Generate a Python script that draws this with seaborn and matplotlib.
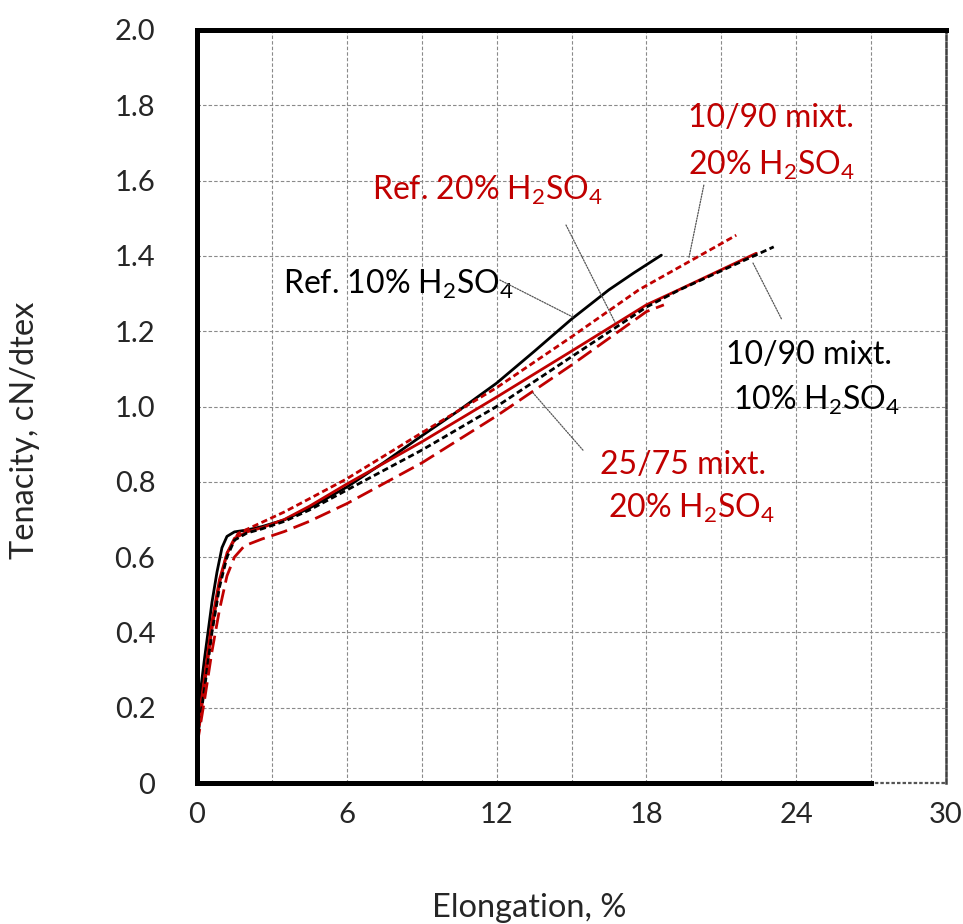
import matplotlib
matplotlib.use("Agg")
import matplotlib.pyplot as plt
import seaborn as sns
import pandas as pd

# ---------------- data ----------------
ref10_x = [0, 0.3, 0.6, 0.8, 1.0, 1.2, 1.5, 2.0, 2.6, 3.5, 4.5, 6, 7.5, 9, 10.5, 12, 13.5, 15, 16.5, 17.5, 18.6]
ref10_y = [0.17, 0.33, 0.48, 0.56, 0.625, 0.655, 0.667, 0.672, 0.681, 0.699, 0.73, 0.786, 0.852, 0.922, 0.99, 1.062, 1.146, 1.232, 1.31, 1.355, 1.402]

mix1090_20_x = [0, 0.3, 0.6, 0.9, 1.2, 1.65, 2.2, 3.5, 4.5, 6, 9, 12, 15, 17.7, 21.6]
mix1090_20_y = [0.10, 0.26, 0.41, 0.53, 0.61, 0.663, 0.680, 0.72, 0.755, 0.808, 0.93, 1.05, 1.185, 1.31, 1.455]

ref20_x = [0, 0.3, 0.6, 0.9, 1.2, 1.5, 2.0, 2.6, 3.5, 4.5, 6, 9, 12, 15, 18, 19.3, 22.4]
ref20_y = [0.13, 0.28, 0.43, 0.54, 0.61, 0.65, 0.667, 0.678, 0.70, 0.735, 0.794, 0.906, 1.025, 1.147, 1.270, 1.31, 1.407]

mix1090_10_x = [0, 0.3, 0.6, 0.9, 1.2, 1.5, 2.0, 2.6, 3.5, 4.5, 6, 9, 12, 15, 18, 19.3, 23.1]
mix1090_10_y = [0.11, 0.25, 0.40, 0.52, 0.60, 0.645, 0.664, 0.675, 0.695, 0.725, 0.778, 0.884, 1.0, 1.132, 1.264, 1.309, 1.424]

mix2575_20_x = [0, 0.3, 0.6, 0.9, 1.2, 1.5, 1.9, 2.6, 3.5, 4.5, 6, 9, 12, 15, 18, 18.7]
mix2575_20_y = [0.10, 0.22, 0.35, 0.46, 0.55, 0.60, 0.63, 0.648, 0.668, 0.695, 0.742, 0.85, 0.975, 1.11, 1.252, 1.27]

x_ticks = [0, 6, 12, 18, 24, 30]
y_ticks = [0, 0.2, 0.4, 0.6, 0.8, 1.0, 1.2, 1.4, 1.6, 1.8, 2.0]
y_tick_labels = ["0", "0.2", "0.4", "0.6", "0.8", "1.0", "1.2", "1.4", "1.6", "1.8", "2.0"]

RED = "#C00000"
BLACK = "#000000"

# ---------------- style ----------------
sns.set_style("white")
plt.rcParams["font.family"] = ["Lato", "DejaVu Sans"]
plt.rcParams["mathtext.fontset"] = "custom"
plt.rcParams["mathtext.rm"] = "Lato"
plt.rcParams["mathtext.it"] = "Lato:italic"
plt.rcParams["mathtext.bf"] = "Lato:bold"
plt.rcParams["lines.scale_dashes"] = False

fig = plt.figure(figsize=(9.63, 9.24), dpi=100)
ax = fig.add_axes([197 / 963, 1 - 783 / 924, (946 - 197) / 963, (783 - 30) / 924])

series = [
    (ref10_x, ref10_y, BLACK, "solid"),
    (mix1090_20_x, mix1090_20_y, RED, (0, (4.5, 2.5))),
    (ref20_x, ref20_y, RED, "solid"),
    (mix1090_10_x, mix1090_10_y, BLACK, (0, (4.5, 2.5))),
    (mix2575_20_x, mix2575_20_y, RED, (0, (12, 5))),
]
for xs, ys, col, ls in series:
    df = pd.DataFrame({"x": xs, "y": ys})
    sns.lineplot(data=df, x="x", y="y", ax=ax, color=col, linewidth=2.0,
                 linestyle=ls, sort=False, estimator=None, zorder=3)

ax.set_xlim(0, 30)
ax.set_ylim(0, 2.0)
ax.set_xticks(x_ticks)
ax.set_yticks(y_ticks)
ax.set_yticklabels(y_tick_labels)
ax.set_xticks(range(0, 31, 3), minor=True)
grid_kw = dict(color="#8a8a8a", linestyle=(0, (2.5, 1.5)), linewidth=0.8)
ax.grid(True, which="both", axis="x", **grid_kw)
ax.grid(True, which="major", axis="y", **grid_kw)
ax.axhline(0, clip_on=False, zorder=2.5, color="#555555", linestyle=(0, (2.5, 1.5)), linewidth=1.6)
ax.tick_params(axis="both", which="both", length=0, labelsize=21)
ax.tick_params(axis="y", pad=30)
ax.tick_params(axis="x", pad=14)
ax.set_xlabel("")
ax.set_ylabel("")

for s in ["left", "top", "bottom"]:
    ax.spines[s].set_color("black")
    ax.spines[s].set_linewidth(3.6)
    ax.spines[s].set_zorder(5)
ax.spines["bottom"].set_bounds(0, 27)
ax.spines["right"].set_color("#404040")
ax.spines["right"].set_linewidth(1.8)
ax.spines["right"].set_linestyle((0, (3, 2)))

fig.text(25 / 963, 1 - 430 / 924, "Tenacity, cN/dtex", rotation=90, ha="center", va="center", fontsize=23.5)
fig.text(529 / 963, 1 - 908 / 924, "Elongation, %", ha="center", va="center", fontsize=23.5)

H = r"H$_\mathregular{2}$SO$_\mathregular{4}$"
fs = 23
ax.text(3.44, 1.323, "Ref. 10% " + H, color=BLACK, fontsize=fs, ha="left", va="center")
ax.text(7.0, 1.575, "Ref. 20% " + H, color=RED, fontsize=fs, ha="left", va="center")
ax.text(23.0, 1.766, "10/90 mixt.", color=RED, fontsize=fs, ha="center", va="center")
ax.text(23.0, 1.641, "20% " + H, color=RED, fontsize=fs, ha="center", va="center")
ax.text(24.5, 1.137, "10/90 mixt.", color=BLACK, fontsize=fs, ha="center", va="center")
ax.text(24.8, 1.017, "10% " + H, color=BLACK, fontsize=fs, ha="center", va="center")
ax.text(19.46, 0.845, "25/75 mixt.", color=RED, fontsize=fs, ha="center", va="center")
ax.text(19.8, 0.730, "20% " + H, color=RED, fontsize=fs, ha="center", va="center")

leaders = [
    ((12.13, 1.336), (15.1, 1.236)),
    ((14.78, 1.482), (16.74, 1.224)),
    ((20.3, 1.588), (19.7, 1.394)),
    ((22.27, 1.381), (23.43, 1.23)),
    ((15.46, 0.884), (13.46, 1.036)),
]
for (x0, y0), (x1, y1) in leaders:
    ax.annotate("", xy=(x1, y1), xytext=(x0, y0),
                arrowprops=dict(arrowstyle="-", color="#555555", lw=0.9,
                                linestyle=(0, (1, 1)), shrinkA=0, shrinkB=0),
                zorder=4)

fig.savefig("out.png", dpi=100)
